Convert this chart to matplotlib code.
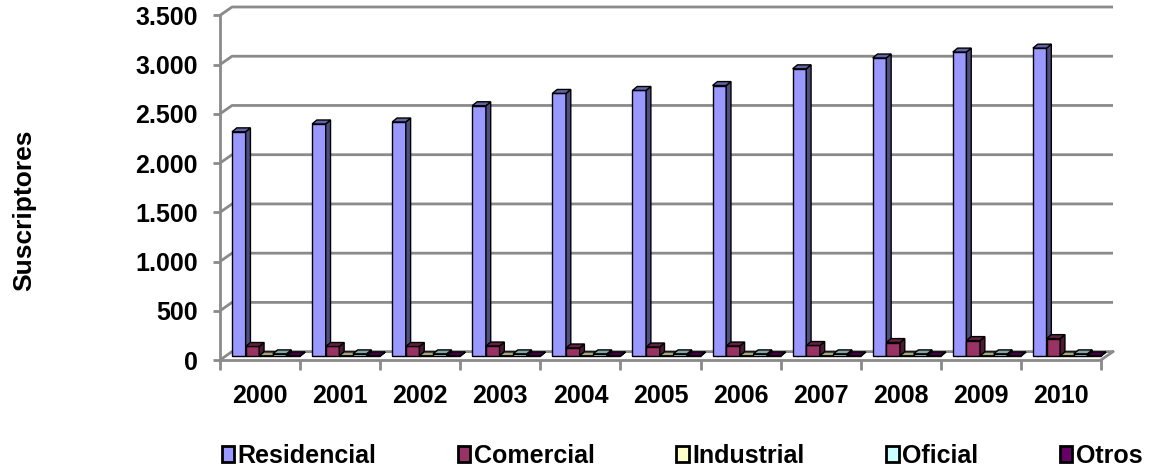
import numpy as np
import matplotlib as mpl
mpl.use("Agg")
import matplotlib.pyplot as plt
from matplotlib.patches import Patch
from matplotlib.colors import to_rgb

mpl.rcParams.update({
    'font.family': ['Liberation Sans', 'DejaVu Sans'],
    'font.weight': 'bold',
    'font.size': 18,
})

years = ['2000', '2001', '2002', '2003', '2004', '2005', '2006', '2007', '2008', '2009', '2010']
residencial = [2280, 2360, 2380, 2545, 2670, 2700, 2750, 2920, 3030, 3090, 3130]
comercial = [100, 100, 100, 105, 85, 95, 105, 110, 140, 160, 180]
industrial = [5, 5, 5, 5, 5, 5, 5, 5, 5, 5, 5]
oficial = [25, 25, 25, 25, 25, 25, 25, 25, 25, 25, 25]
otros = [5, 5, 5, 5, 5, 5, 5, 5, 5, 5, 5]

series = [('Residencial', residencial, '#9999FF'),
          ('Comercial', comercial, '#993366'),
          ('Industrial', industrial, '#FFFFCC'),
          ('Oficial', oficial, '#CCFFFF'),
          ('Otros', otros, '#660066')]

yticks = [0, 500, 1000, 1500, 2000, 2500, 3000, 3500]
ytick_labels = ['0', '500', '1.000', '1.500', '2.000', '2.500', '3.000', '3.500']

# fake 3d: wall depth and bar depth (data units)
wall_dx, wall_dy = 0.15, 85
bar_dx, bar_dy = 0.06, 40
step = 0.17
grid_col = '#8a8a8a'

fig = plt.figure(figsize=(11.54, 4.70), dpi=100)
ax = fig.add_axes([220/1154, 110/470, 893/1154, 353/470])
n = len(years)
x = np.arange(n)
ax.set_xlim(-0.5, n - 0.5 + wall_dx)
ax.set_ylim(0, 3500 + wall_dy)

# back wall gridlines
for v in yticks:
    ax.plot([-0.5, -0.5 + wall_dx, n - 0.5 + wall_dx], [v, v + wall_dy, v + wall_dy],
            color=grid_col, lw=2, zorder=1, clip_on=False, solid_capstyle='butt')
# floor right edge
ax.plot([n - 0.5, n - 0.5 + wall_dx], [0, wall_dy], color=grid_col, lw=2, zorder=1, clip_on=False)

z = 2
for i in range(n):
    for k, (name, vals, col) in enumerate(series):
        left = x[i] - 0.425 + k * step + wall_dx / 2
        b = wall_dy / 2 - 5
        v = vals[i]
        c = np.array(to_rgb(col))
        ax.bar(left, v, width=step, bottom=b, align='edge', color=col,
               edgecolor='black', lw=1, zorder=z, clip_on=False)
        r = left + step
        ax.fill([r, r + bar_dx, r + bar_dx, r], [b, b + bar_dy, b + v + bar_dy, b + v],
                facecolor=c * 0.5, edgecolor='black', lw=1, zorder=z, clip_on=False)
        ax.fill([left, r, r + bar_dx, left + bar_dx], [b + v, b + v, b + v + bar_dy, b + v + bar_dy],
                facecolor=c * 0.65, edgecolor='black', lw=1, zorder=z, clip_on=False)
        z += 1

ax.set_yticks(yticks)
ax.set_yticklabels(ytick_labels)
ax.set_xticks(x)
ax.set_xticklabels(years)
ax.set_xticks(np.arange(n + 1) - 0.5, minor=True)
ax.tick_params(axis='x', which='major', length=0, pad=17)
ax.tick_params(axis='x', which='minor', length=7, width=2, color=grid_col)
ax.tick_params(axis='y', length=5, width=2, color=grid_col, pad=11)
for s in ['top', 'right']:
    ax.spines[s].set_visible(False)
for s in ['left', 'bottom']:
    ax.spines[s].set_color(grid_col)
    ax.spines[s].set_linewidth(2)
ax.spines['bottom'].set_bounds(-0.5, n - 0.5)
ax.spines['left'].set_bounds(0, 3500)
ax.set_facecolor('none')

fig.text(24/1154, 1 - 210/470, 'Suscriptores', rotation=90, ha='center', va='center', fontsize=19)

handles = [Patch(facecolor=col, edgecolor='black', lw=2) for _, _, col in series]
fig.legend(handles, [s[0] for s in series], ncol=5, loc='center', frameon=False,
           bbox_to_anchor=(682/1154, 1 - 456/470), handlelength=0.5, handleheight=0.6,
           handletextpad=0.15, columnspacing=3.25)

fig.savefig('out.png', dpi=100)
